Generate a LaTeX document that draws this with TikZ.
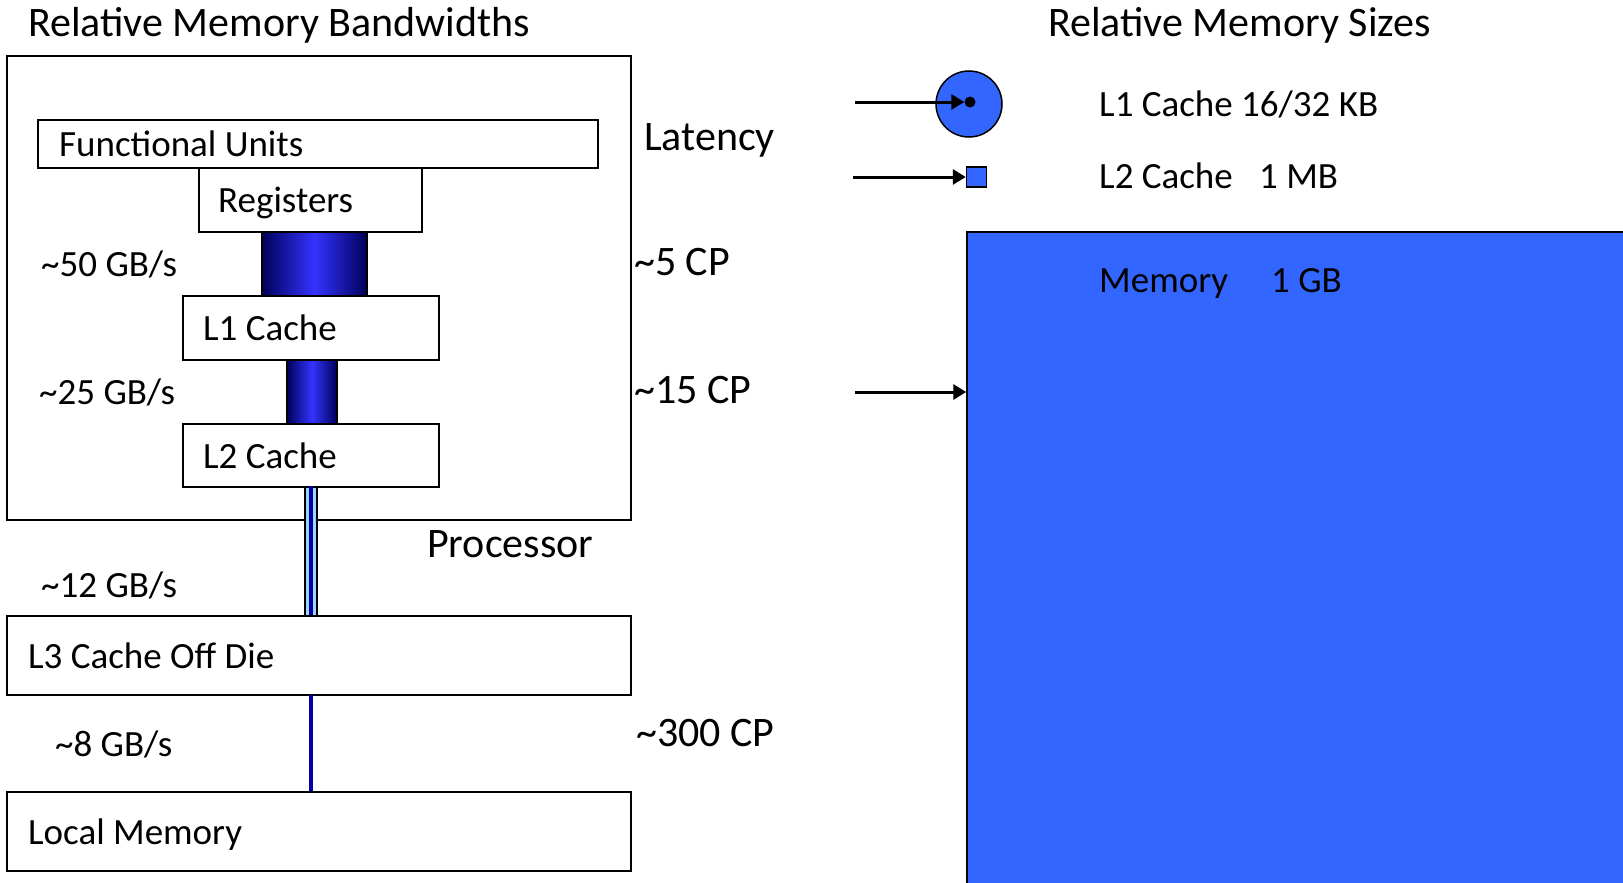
\documentclass[tikz,border=0pt]{standalone}
\usepackage{fontspec}
\setmainfont{Carlito}
\usetikzlibrary{arrows.meta}
\definecolor{memblue}{RGB}{51,102,255}
\definecolor{navyb}{RGB}{0,0,90}
\definecolor{brightb}{RGB}{51,51,255}
\definecolor{lineb}{RGB}{0,0,170}
\definecolor{paleb}{RGB}{160,210,255}
\begin{document}
\begin{tikzpicture}[x=1pt,y=-1pt,
  box/.style={draw,line width=1.5pt,rectangle,inner sep=0pt,fill=white},
  lab/.style={anchor=base west,inner sep=0pt,font=\fontsize{37}{44}\selectfont},
  big/.style={anchor=base west,inner sep=0pt,font=\fontsize{42}{50}\selectfont},
  bar/.style={draw,line width=1.2pt,rectangle,inner sep=0pt,left color=navyb,right color=navyb,middle color=brightb},
  arr/.style={line width=3pt,-{Triangle[length=13pt,width=15pt]}}]
\useasboundingbox (0,0) rectangle (1623,883);
% left column
\node[box,minimum width=624pt,minimum height=464pt] (proc) at (319,288) {};
\node[box,minimum width=560pt,minimum height=48pt] (fu) at (318,144) {};
\node[box,minimum width=223pt,minimum height=64pt] (reg) at (310.5,200) {};
\node[bar,minimum width=105pt,minimum height=64pt] (bar1) at (314.5,264) {};
\node[box,minimum width=256pt,minimum height=64pt] (l1) at (311,328) {};
\node[bar,minimum width=50pt,minimum height=64pt] (bar2) at (312,392) {};
\node[box,minimum width=256pt,minimum height=63pt] (l2) at (311,455.5) {};
\node[draw,line width=1.2pt,fill=paleb,rectangle,inner sep=0pt,minimum width=12pt,minimum height=129pt] (bar3) at (311,551.5) {};
\draw[lineb,line width=4pt] (bar3.north) -- (bar3.south);
\node[box,minimum width=624pt,minimum height=79pt] (l3) at (319,655.5) {};
\node[fill=lineb,rectangle,inner sep=0pt,minimum width=4pt,minimum height=97pt] (bar4) at (311,743.5) {};
\node[box,minimum width=624pt,minimum height=79pt] (lm) at (319,831.5) {};
% left texts
\node[big] (t1) at (28,36.5) {Relative Memory Bandwidths};
\node[lab] (tfu) at (59,156) {Functional Units};
\node[lab] (treg) at (218,212) {Registers};
\node[lab] (tl1) at (203,340) {L1 Cache};
\node[lab] (tl2) at (203,468) {L2 Cache};
\node[lab] (tl3) at (28,668) {L3 Cache Off Die};
\node[lab] (tlm) at (28,844) {Local Memory};
\node[lab] (bw1) at (41,276) {\textasciitilde50 GB/s};
\node[lab] (bw2) at (39,404) {\textasciitilde25 GB/s};
\node[lab] (bw3) at (41,597) {\textasciitilde12 GB/s};
\node[lab] (bw4) at (55,756) {\textasciitilde8 GB/s};
\node[big] (tproc) at (427,557.5) {Processor};
\node[big] (tlat) at (644,150) {Latency};
\node[big] (lat1) at (634,275.5) {\textasciitilde5 CP};
\node[big] (lat2) at (634,403.5) {\textasciitilde15 CP};
\node[big] (lat3) at (636,746.5) {\textasciitilde300 CP};
% right column
\node[draw,line width=1.5pt,fill=memblue,rectangle,inner sep=0pt,minimum width=733pt,minimum height=718pt] (mem) at (1333.5,591) {};
\node[draw,line width=1.5pt,fill=memblue,circle,inner sep=0pt,minimum size=66pt] (l1c) at (969,104) {};
\node[fill=black,circle,inner sep=0pt,minimum size=11pt] (l1dot) at (970,102) {};
\node[draw,line width=1.5pt,fill=memblue,rectangle,inner sep=0pt,minimum size=20pt] (l2sq) at (976.5,177) {};
\coordinate (a1) at (855,102);
\coordinate (a2) at (853,177);
\coordinate (a3) at (855,392);
\draw[arr] (a1) -- (l1dot.west);
\draw[arr] (a2) -- (l2sq.west);
\draw[arr] (a3) -- (a3 -| mem.west);
\node[big] (t2) at (1048,36.5) {Relative Memory Sizes};
\node[lab] (s1) at (1099,116.5) {L1 Cache 16/32 KB};
\node[lab] (s2) at (1099,188) {L2 Cache};
\node[lab] (s2b) at (1259,188) {1 MB};
\node[lab] (s3) at (1099,292) {Memory};
\node[lab] (s3b) at (1271,292) {1 GB};
\end{tikzpicture}
\end{document}
